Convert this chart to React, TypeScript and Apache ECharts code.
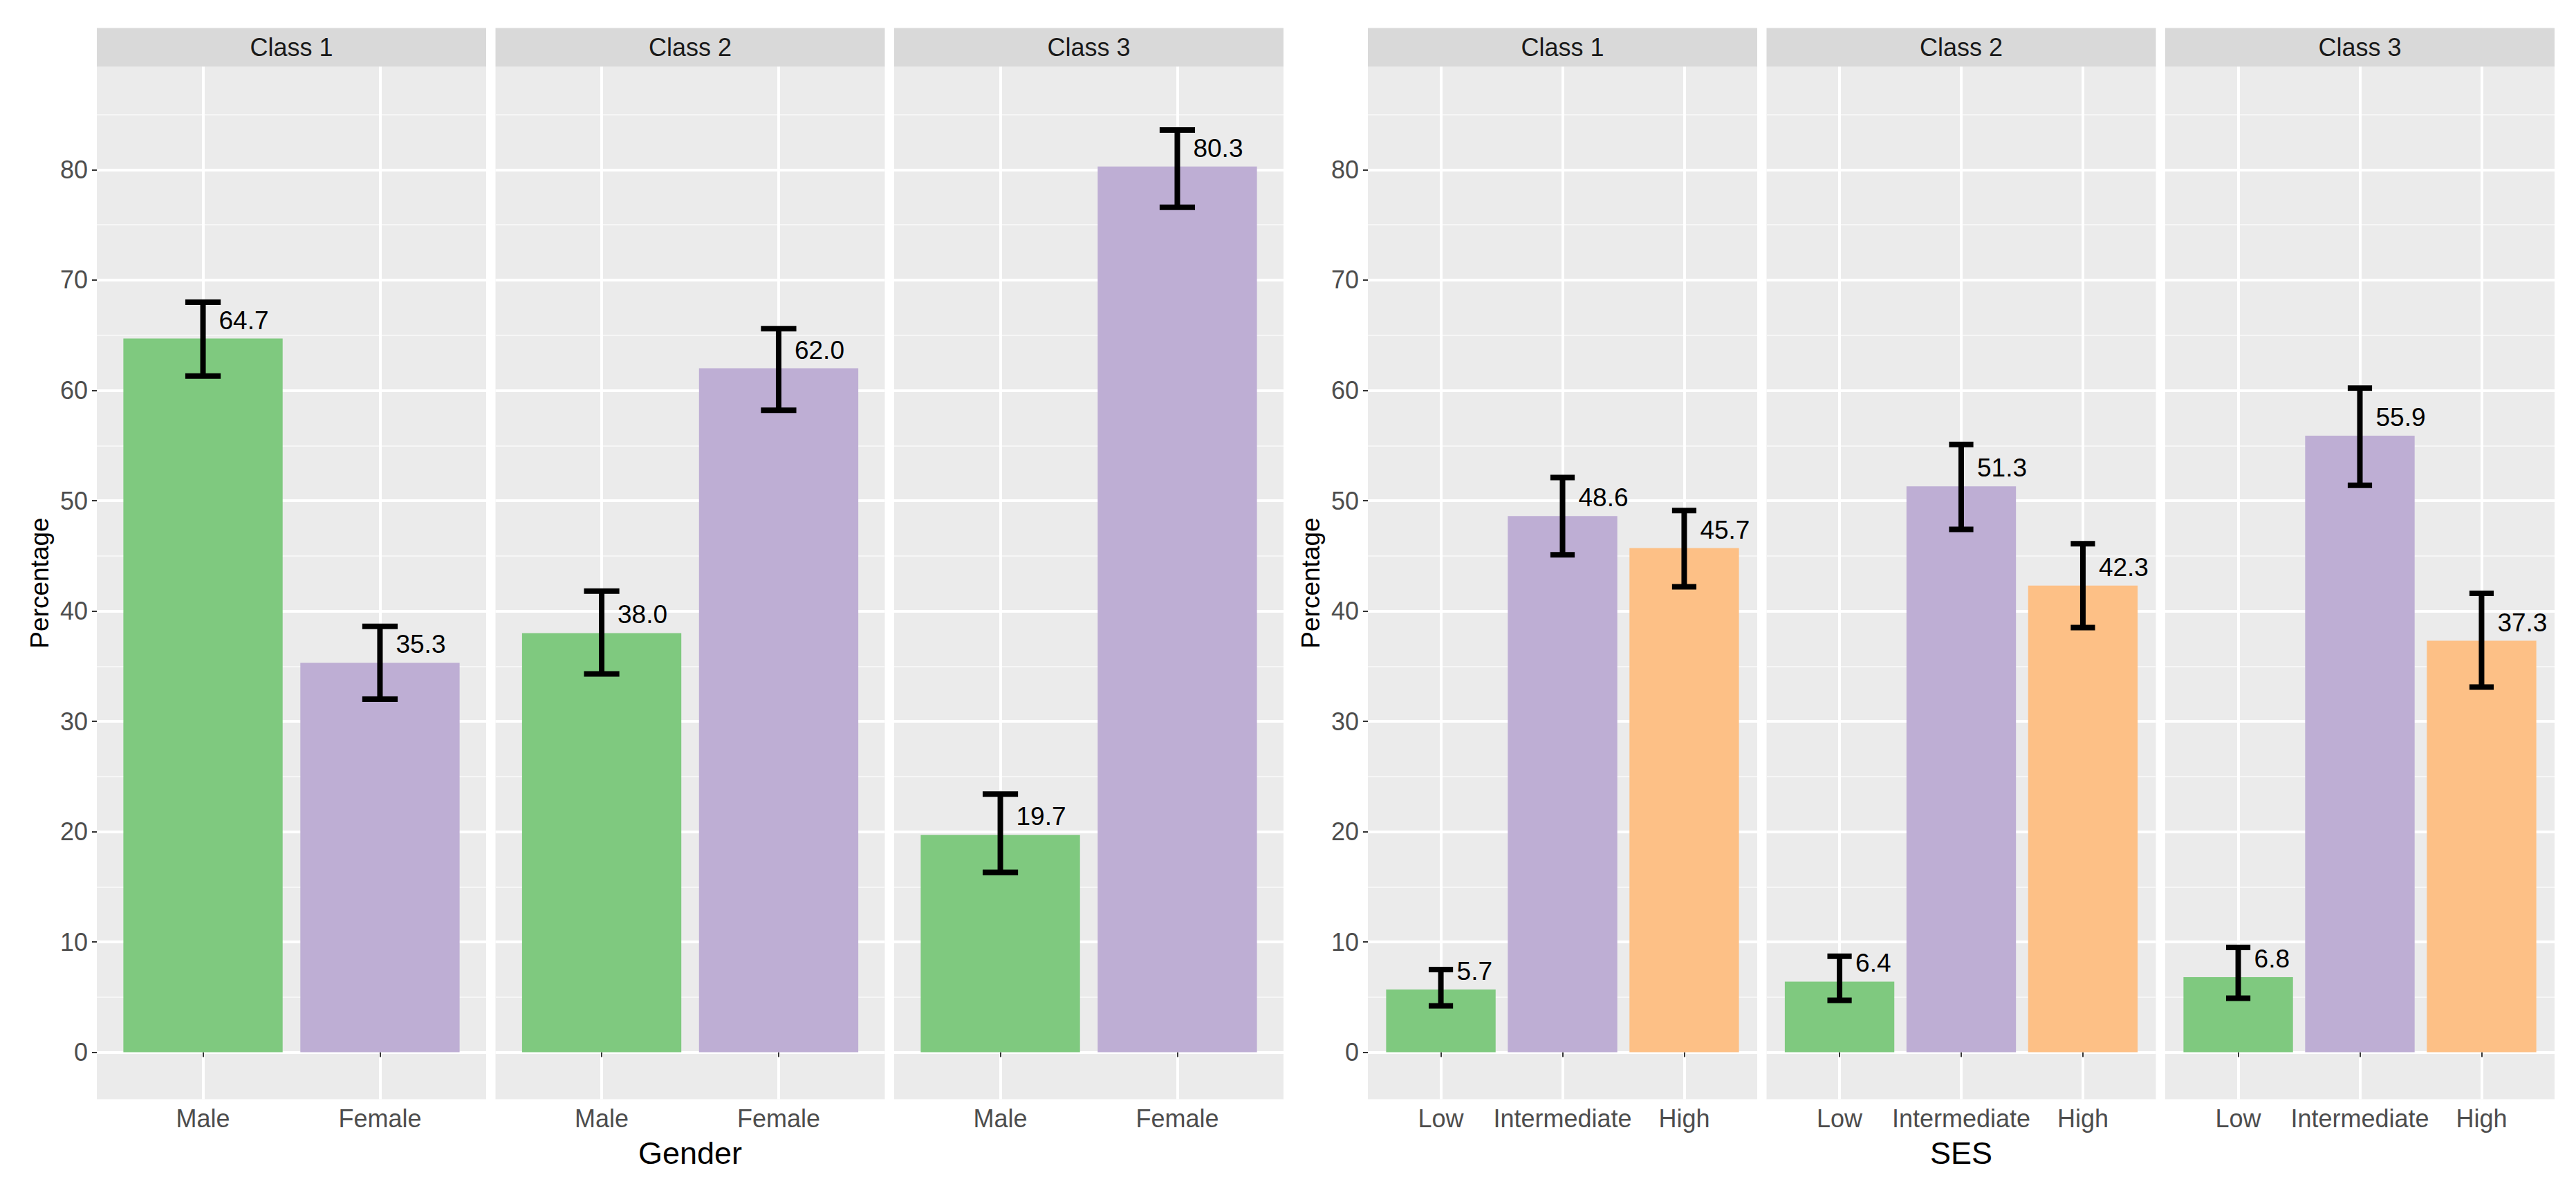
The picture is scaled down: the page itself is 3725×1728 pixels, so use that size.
import React, { useEffect, useRef } from "react";
import * as echarts from "echarts";

// ---------- data ----------
const classNames = ["Class 1", "Class 2", "Class 3"];
const genderCats = ["Male", "Female"];
const sesCats = ["Low", "Intermediate", "High"];

const genderValues = [
  [64.7, 35.3],
  [38.0, 62.0],
  [19.7, 80.3],
];
const genderLower = [
  [61.3, 32.0],
  [34.3, 58.2],
  [16.3, 76.6],
];
const genderUpper = [
  [68.0, 38.6],
  [41.8, 65.6],
  [23.4, 83.6],
];

const sesValues = [
  [5.7, 48.6, 45.7],
  [6.4, 51.3, 42.3],
  [6.8, 55.9, 37.3],
];
const sesLower = [
  [4.2, 45.1, 42.2],
  [4.7, 47.4, 38.5],
  [4.9, 51.4, 33.1],
];
const sesUpper = [
  [7.5, 52.1, 49.1],
  [8.7, 55.1, 46.1],
  [9.5, 60.2, 41.6],
];

const yMajorTicks = [0, 10, 20, 30, 40, 50, 60, 70, 80];
const yMinorTicks = [5, 15, 25, 35, 45, 55, 65, 75, 85];
const palette = ["#7FC97F", "#BEAED4", "#FDC086"];

// ---------- layout ----------
const FONT = "Liberation Sans";
const PANEL_TOP = 96.5;
const PANEL_H = 1493;
const PANEL_W = 563;
const PANEL_GAP = 13.5;
const STRIP_TOP = 40.5;
const STRIP_H = 56;
const PLOT_LEFTS = [140, 1978];
const Y_MIN = -4.26;
const Y_MAX = 89.34;

export default function App() {
  const ref = useRef<HTMLDivElement>(null);

  useEffect(() => {
    if (!ref.current) return;
    const chart = echarts.init(ref.current, undefined, { renderer: "svg" });

    const plots = [
      { cats: genderCats, vals: genderValues, lo: genderLower, hi: genderUpper, title: "Gender" },
      { cats: sesCats, vals: sesValues, lo: sesLower, hi: sesUpper, title: "SES" },
    ];

    const grids: any[] = [];
    const xAxes: any[] = [];
    const yAxes: any[] = [];
    const series: any[] = [];
    const graphics: any[] = [];

    const renderErr = (params: any, api: any) => {
      const x = api.value(0);
      const v = api.value(1);
      const lo = api.value(2);
      const hi = api.value(3);
      const top = api.coord([x, hi]);
      const bot = api.coord([x, lo]);
      const mid = api.coord([x, v]);
      const half = api.size([0.1, 0])[0];
      const ls = { stroke: "#000000", lineWidth: 8, lineCap: "butt" };
      return {
        type: "group",
        children: [
          { type: "line", shape: { x1: top[0], y1: top[1], x2: bot[0], y2: bot[1] }, style: ls },
          { type: "line", shape: { x1: top[0] - half, y1: top[1], x2: top[0] + half, y2: top[1] }, style: ls },
          { type: "line", shape: { x1: bot[0] - half, y1: bot[1], x2: bot[0] + half, y2: bot[1] }, style: ls },
          {
            type: "text",
            x: mid[0] + 23,
            y: mid[1] - 8,
            style: {
              text: v.toFixed(1),
              fill: "#000000",
              fontSize: 37,
              fontFamily: FONT,
              align: "left",
              verticalAlign: "bottom",
              textAlign: "left",
              textVerticalAlign: "bottom",
            },
          },
        ],
      };
    };

    plots.forEach((p, pi) => {
      const idxs = p.cats.map((_, k) => k + 1);
      classNames.forEach((cn, c) => {
        const gi = grids.length;
        const left = PLOT_LEFTS[pi] + c * (PANEL_W + PANEL_GAP);
        grids.push({
          left,
          top: PANEL_TOP,
          width: PANEL_W,
          height: PANEL_H,
          show: true,
          backgroundColor: "#EBEBEB",
          borderWidth: 0,
          containLabel: false,
          outerBoundsMode: "none",
        });
        xAxes.push({
          type: "value",
          gridIndex: gi,
          min: 0.4,
          max: p.cats.length + 0.6,
          axisLine: { show: false },
          axisTick: {
            show: true,
            customValues: idxs,
            length: 7,
            lineStyle: { color: "#333333", width: 2 },
          },
          axisLabel: {
            show: true,
            customValues: idxs,
            formatter: (v: number) => p.cats[Math.round(v) - 1] ?? "",
            fontSize: 36,
            fontFamily: FONT,
            color: "#4D4D4D",
            margin: 10,
          },
          splitLine: { show: true, lineStyle: { color: "#FFFFFF", width: 4 } },
          name: c === 1 ? p.title : "",
          nameLocation: "middle",
          nameGap: 55,
          nameTextStyle: { fontSize: 45, fontFamily: FONT, color: "#000000" },
        });
        yAxes.push({
          type: "value",
          gridIndex: gi,
          min: Y_MIN,
          max: Y_MAX,
          position: "left",
          axisLine: { show: false },
          axisTick: {
            show: c === 0,
            customValues: yMajorTicks,
            length: 7,
            lineStyle: { color: "#333333", width: 2 },
          },
          axisLabel: {
            show: c === 0,
            customValues: yMajorTicks,
            fontSize: 36,
            fontFamily: FONT,
            color: "#4D4D4D",
            margin: 13,
          },
          splitLine: { show: true, lineStyle: { color: "#FFFFFF", width: 4 } },
          name: c === 0 ? "Percentage" : "",
          nameLocation: "middle",
          nameGap: 64,
          nameTextStyle: { fontSize: 37, fontFamily: FONT, color: "#000000" },
        });
        yAxes.push({
          type: "value",
          gridIndex: gi,
          min: Y_MIN,
          max: Y_MAX,
          position: "left",
          axisLine: { show: false },
          axisTick: { show: false, customValues: yMinorTicks },
          axisLabel: { show: false, customValues: yMinorTicks },
          splitLine: { show: true, lineStyle: { color: "#F6F6F6", width: 2 } },
        });
        const yi = gi * 2;
        series.push({
          type: "bar",
          xAxisIndex: gi,
          yAxisIndex: yi,
          barWidth: "90%",
          silent: true,
          data: p.vals[c].map((v, k) => ({ value: [k + 1, v], itemStyle: { color: palette[k] } })),
        });
        series.push({
          type: "custom",
          xAxisIndex: gi,
          yAxisIndex: yi,
          encode: { x: 0, y: 1 },
          silent: true,
          z: 10,
          clip: false,
          renderItem: renderErr,
          data: p.vals[c].map((v, k) => [k + 1, v, p.lo[c][k], p.hi[c][k]]),
        });
        graphics.push({
          type: "rect",
          silent: true,
          shape: { x: left, y: STRIP_TOP, width: PANEL_W, height: STRIP_H },
          style: { fill: "#D9D9D9" },
        });
        graphics.push({
          type: "text",
          silent: true,
          x: left + PANEL_W / 2,
          y: STRIP_TOP + STRIP_H / 2,
          style: {
            text: cn,
            fill: "#1A1A1A",
            fontSize: 36,
            fontFamily: FONT,
            align: "center",
            verticalAlign: "middle",
            textAlign: "center",
            textVerticalAlign: "middle",
          },
        });
      });
    });

    chart.setOption({
      animation: false,
      backgroundColor: "#FFFFFF",
      textStyle: { fontFamily: FONT },
      grid: grids,
      xAxis: xAxes,
      yAxis: yAxes,
      series,
      graphic: graphics,
    });

    return () => chart.dispose();
  }, []);

  return (
    <div
      ref={ref}
      style={{ position: "absolute", left: 0, top: 0, width: 3725, height: 1728 }}
    />
  );
}
